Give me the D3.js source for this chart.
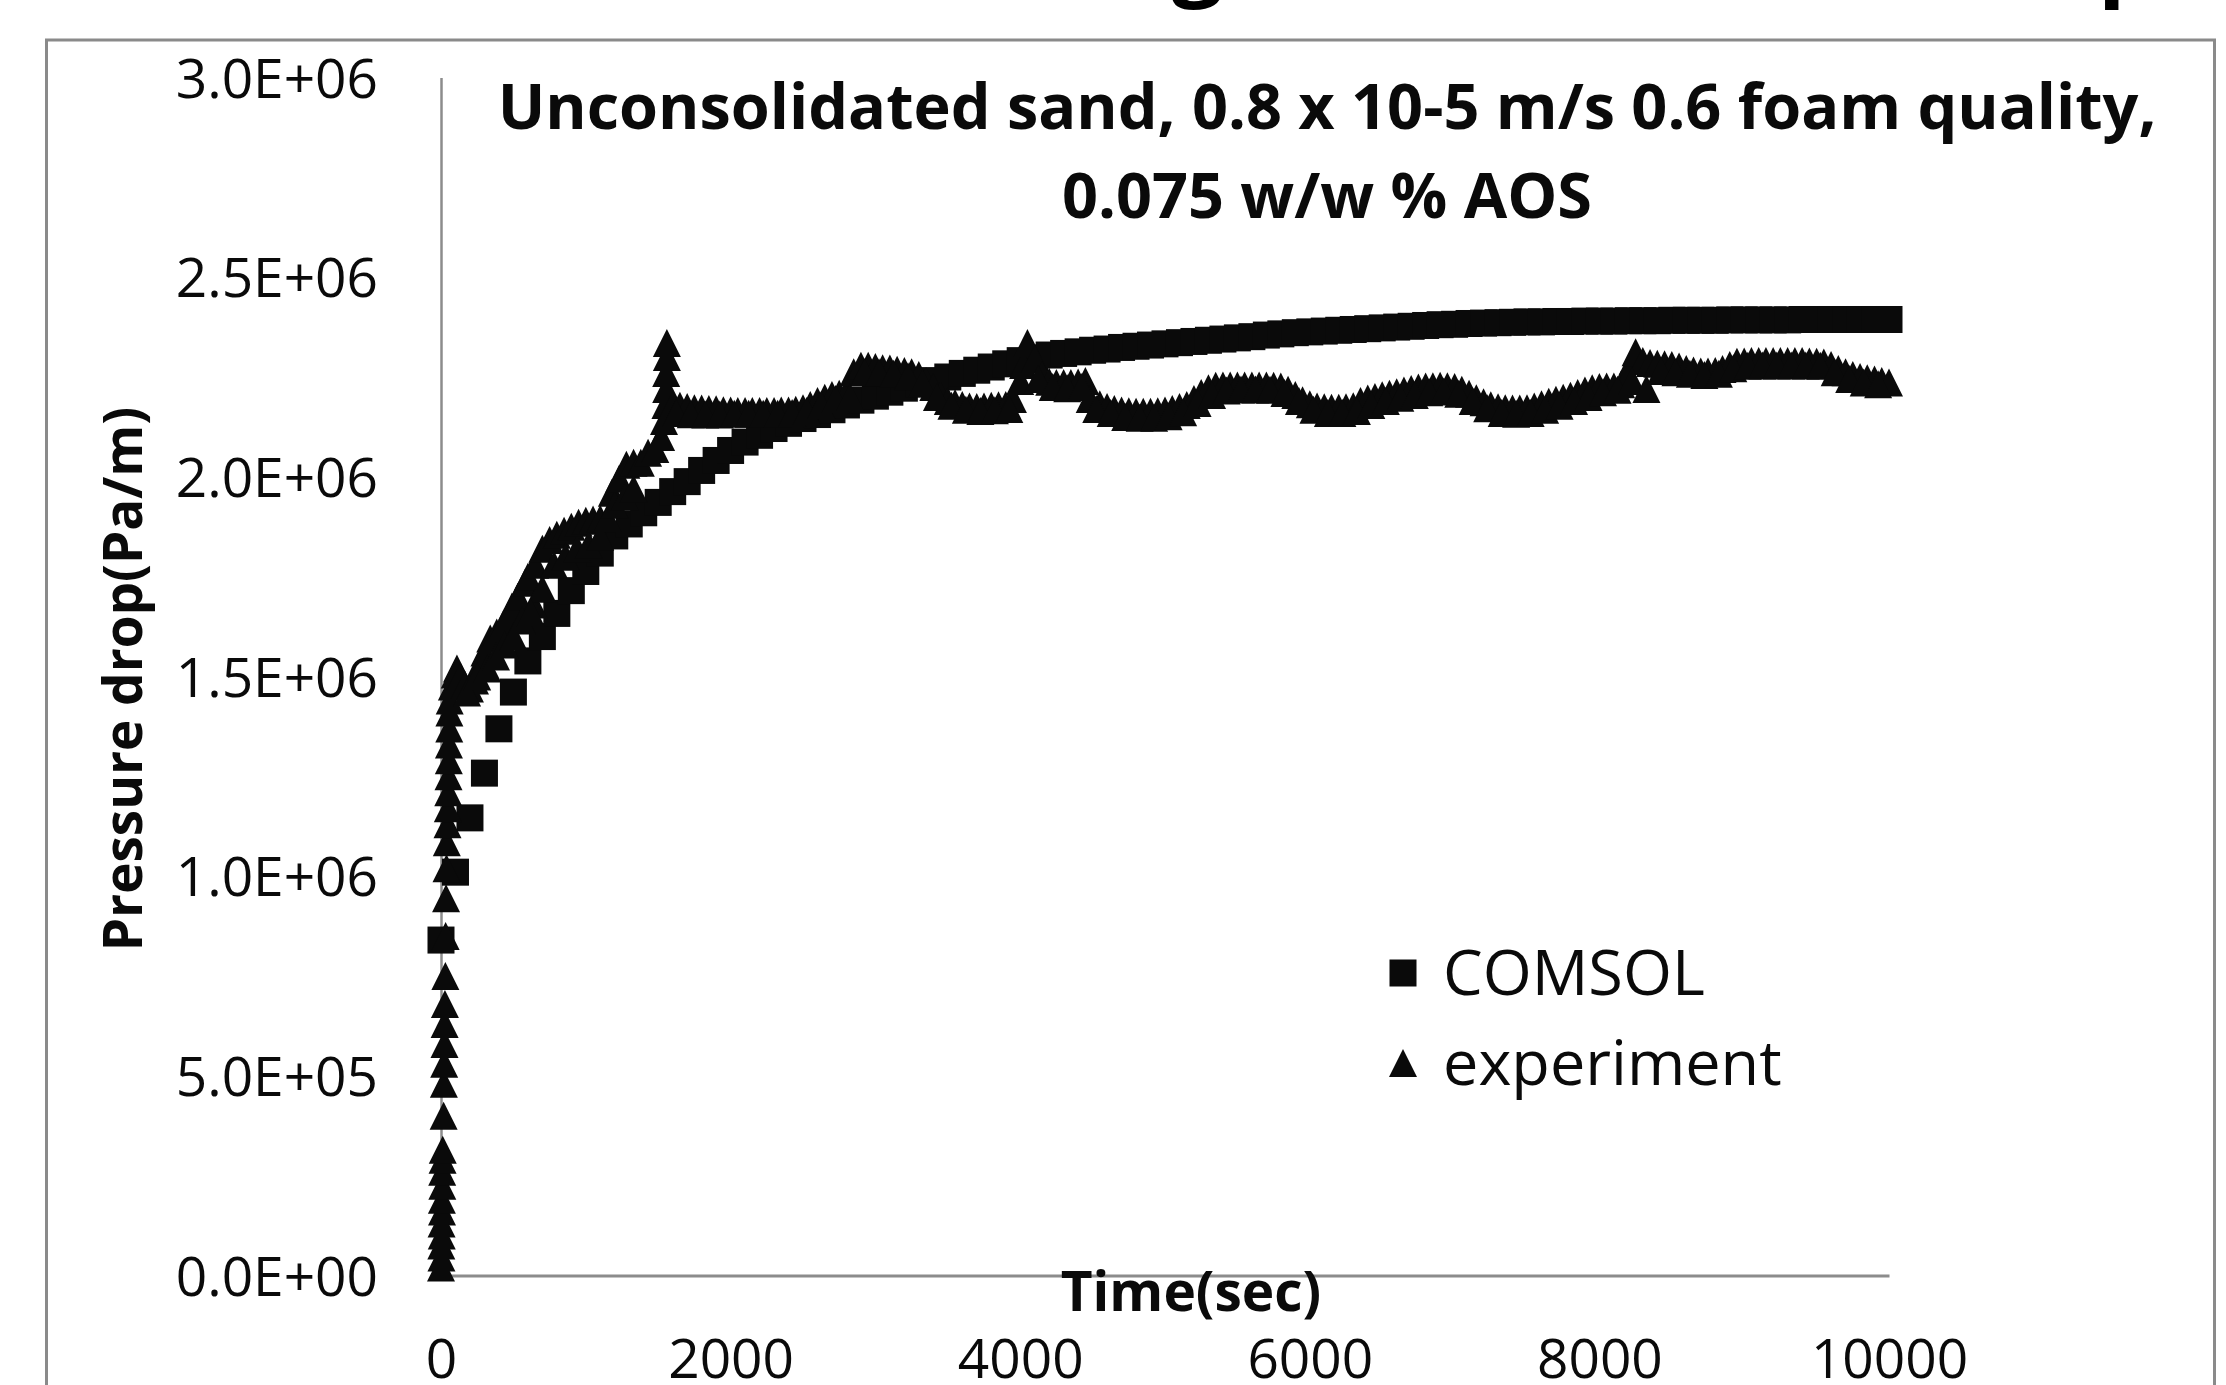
<!DOCTYPE html>
<html>
<head>
<meta charset="utf-8">
<script src="https://cdnjs.cloudflare.com/ajax/libs/d3/7.8.5/d3.min.js"></script>
<style>
  body { margin: 0; background: #fff; }
  svg { display: block; font-family: "Open Sans", sans-serif; }
  .axis path { stroke: #8c8c8c; }
  .axis text { fill: #0a0a0a; font-size: 55px; font-family: "Open Sans", sans-serif; }
</style>
</head>
<body>
<div id="chart"></div>
<script>
// COMSOL simulation, one marker every 100 s
var comsolTime = [
  0, 100, 200, 300, 400, 500, 600, 700, 800, 900,
  1000, 1100, 1200, 1300, 1400, 1500, 1600, 1700, 1800, 1900,
  2000, 2100, 2200, 2300, 2400, 2500, 2600, 2700, 2800, 2900,
  3000, 3100, 3200, 3300, 3400, 3500, 3600, 3700, 3800, 3900,
  4000, 4100, 4200, 4300, 4400, 4500, 4600, 4700, 4800, 4900,
  5000, 5100, 5200, 5300, 5400, 5500, 5600, 5700, 5800, 5900,
  6000, 6100, 6200, 6300, 6400, 6500, 6600, 6700, 6800, 6900,
  7000, 7100, 7200, 7300, 7400, 7500, 7600, 7700, 7800, 7900,
  8000, 8100, 8200, 8300, 8400, 8500, 8600, 8700, 8800, 8900,
  9000, 9100, 9200, 9300, 9400, 9500, 9600, 9700, 9800, 9900,
  10000
];
var comsolPressure = [
  0.840e6, 1.010e6, 1.146e6, 1.258e6, 1.369e6, 1.461e6, 1.539e6, 1.600e6, 1.658e6, 1.715e6,
  1.763e6, 1.809e6, 1.852e6, 1.882e6, 1.910e6, 1.936e6, 1.963e6, 1.988e6, 2.016e6, 2.041e6,
  2.066e6, 2.087e6, 2.104e6, 2.121e6, 2.134e6, 2.146e6, 2.156e6, 2.168e6, 2.180e6, 2.192e6,
  2.202e6, 2.212e6, 2.222e6, 2.232e6, 2.241e6, 2.250e6, 2.259e6, 2.267e6, 2.275e6, 2.283e6,
  2.291e6, 2.298e6, 2.305e6, 2.309e6, 2.313e6, 2.317e6, 2.320e6, 2.324e6, 2.327e6, 2.330e6,
  2.333e6, 2.336e6, 2.339e6, 2.342e6, 2.345e6, 2.348e6, 2.351e6, 2.355e6, 2.358e6, 2.361e6,
  2.363e6, 2.365e6, 2.367e6, 2.369e6, 2.371e6, 2.373e6, 2.375e6, 2.377e6, 2.379e6, 2.381e6,
  2.382e6, 2.384e6, 2.385e6, 2.386e6, 2.387e6, 2.388e6, 2.388e6, 2.389e6, 2.389e6, 2.390e6,
  2.390e6, 2.390e6, 2.391e6, 2.391e6, 2.391e6, 2.392e6, 2.392e6, 2.392e6, 2.392e6, 2.393e6,
  2.393e6, 2.393e6, 2.393e6, 2.393e6, 2.394e6, 2.394e6, 2.394e6, 2.394e6, 2.394e6, 2.394e6,
  2.394e6
];

// experiment (upper run of readings, then the lower ones)
var expTime = [
  0, 3, 2, 5, 4, 7, 6, 9, 8, 11,
  12, 18, 20, 22, 24, 25, 27, 30, 32, 35,
  38, 40, 45, 47, 50, 52, 54, 55, 57, 58,
  60, 75, 95, 110, 135, 165, 200, 235, 270, 300,
  340, 385, 430, 460, 490, 530, 580, 600, 640, 650,
  700, 700, 750, 780, 800, 850, 860, 900, 940, 950,
  1000, 1020, 1050, 1100, 1100, 1150, 1180, 1200, 1230, 1270,
  1280, 1330, 1330, 1380, 1430, 1480, 1520, 1540, 1550, 1555,
  1555, 1560, 1560, 1600, 1650, 1700, 1750, 1800, 1850, 1900,
  1950, 2000, 2050, 2100, 2150, 2200, 2250, 2300, 2350, 2400,
  2450, 2500, 2550, 2600, 2650, 2700, 2750, 2800, 2850, 2900,
  2950, 3000, 3050, 3100, 3150, 3200, 3250, 3300, 3350, 3400,
  3450, 3500, 3550, 3600, 3650, 3700, 3750, 3800, 3850, 3900,
  3950, 4000, 4020, 4050, 4100, 4150, 4200, 4250, 4300, 4350,
  4400, 4450, 4480, 4550, 4600, 4650, 4700, 4750, 4800, 4850,
  4900, 4950, 5000, 5050, 5100, 5150, 5200, 5250, 5300, 5350,
  5400, 5450, 5500, 5550, 5600, 5650, 5700, 5750, 5800, 5850,
  5900, 5950, 6000, 6050, 6100, 6150, 6200, 6250, 6300, 6350,
  6400, 6450, 6500, 6550, 6600, 6650, 6700, 6750, 6800, 6850,
  6900, 6950, 7000, 7050, 7100, 7150, 7200, 7250, 7300, 7350,
  7400, 7450, 7500, 7550, 7600, 7650, 7700, 7750, 7800, 7850,
  7900, 7950, 8000, 8050, 8100, 8150, 8200, 8230, 8250, 8300,
  8350, 8400, 8450, 8500, 8550, 8600, 8650, 8700, 8750, 8800,
  8850, 8900, 8950, 9000, 9050, 9100, 9150, 9200, 9250, 9300,
  9350, 9400, 9450, 9500, 9550, 9600, 9650, 9700, 9750, 9800,
  9850, 9900, 9950, 10000,
  180, 250, 320, 380, 440, 500, 560, 620,
  1625, 1725, 1825, 1925, 2025, 2125, 2225, 2325, 2425, 2525,
  2625, 2725, 2825, 2925, 3025, 3125, 3225, 3325, 3425, 3525,
  3625, 3725, 3825, 3925, 4125, 4225, 4325, 4425, 4525, 4625,
  4725, 4825, 4925, 5025, 5125, 5225, 5325, 5425, 5525, 5625,
  5725, 5825, 5925, 6025, 6125, 6225, 6325, 6425, 6525, 6625,
  6725, 6825, 6925, 7025, 7125, 7225, 7325, 7425, 7525, 7625,
  7725, 7825, 7925, 8025, 8125, 8225, 8325, 8425, 8525, 8625,
  8725, 8825, 8925, 9025, 9125, 9225, 9325, 9425, 9525, 9625,
  9725, 9825, 9925
];
var expPressure = [
  0.020e6, 0.045e6, 0.075e6, 0.100e6, 0.130e6, 0.160e6, 0.190e6, 0.225e6, 0.260e6, 0.290e6,
  0.315e6, 0.400e6, 0.480e6, 0.530e6, 0.580e6, 0.630e6, 0.680e6, 0.750e6, 0.850e6, 0.945e6,
  1.020e6, 1.085e6, 1.130e6, 1.170e6, 1.210e6, 1.250e6, 1.290e6, 1.330e6, 1.370e6, 1.410e6,
  1.440e6, 1.475e6, 1.505e6, 1.520e6, 1.500e6, 1.480e6, 1.470e6, 1.490e6, 1.530e6, 1.560e6,
  1.595e6, 1.610e6, 1.630e6, 1.650e6, 1.675e6, 1.700e6, 1.735e6, 1.750e6, 1.680e6, 1.780e6,
  1.820e6, 1.720e6, 1.842e6, 1.780e6, 1.855e6, 1.865e6, 1.800e6, 1.875e6, 1.820e6, 1.885e6,
  1.890e6, 1.830e6, 1.893e6, 1.895e6, 1.850e6, 1.897e6, 1.960e6, 1.930e6, 1.995e6, 1.950e6,
  2.030e6, 2.035e6, 1.970e6, 2.035e6, 2.060e6, 2.070e6, 2.100e6, 2.140e6, 2.180e6, 2.220e6,
  2.260e6, 2.300e6, 2.335e6, 2.180e6, 2.178e6, 2.175e6, 2.172e6, 2.171e6, 2.170e6, 2.169e6,
  2.167e6, 2.166e6, 2.165e6, 2.165e6, 2.165e6, 2.165e6, 2.165e6, 2.165e6, 2.166e6, 2.166e6,
  2.168e6, 2.172e6, 2.180e6, 2.190e6, 2.198e6, 2.205e6, 2.208e6, 2.210e6, 2.262e6, 2.278e6,
  2.278e6, 2.275e6, 2.272e6, 2.271e6, 2.268e6, 2.265e6, 2.262e6, 2.255e6, 2.240e6, 2.225e6,
  2.205e6, 2.190e6, 2.185e6, 2.180e6, 2.176e6, 2.175e6, 2.176e6, 2.178e6, 2.179e6, 2.180e6,
  2.195e6, 2.240e6, 2.280e6, 2.335e6, 2.295e6, 2.255e6, 2.238e6, 2.235e6, 2.235e6, 2.235e6,
  2.236e6, 2.240e6, 2.195e6, 2.182e6, 2.175e6, 2.170e6, 2.166e6, 2.164e6, 2.163e6, 2.163e6,
  2.163e6, 2.164e6, 2.166e6, 2.170e6, 2.175e6, 2.180e6, 2.195e6, 2.210e6, 2.222e6, 2.228e6,
  2.229e6, 2.229e6, 2.229e6, 2.229e6, 2.229e6, 2.229e6, 2.229e6, 2.228e6, 2.226e6, 2.218e6,
  2.205e6, 2.192e6, 2.182e6, 2.176e6, 2.174e6, 2.173e6, 2.173e6, 2.174e6, 2.177e6, 2.190e6,
  2.196e6, 2.200e6, 2.204e6, 2.208e6, 2.212e6, 2.216e6, 2.220e6, 2.224e6, 2.226e6, 2.227e6,
  2.228e6, 2.227e6, 2.225e6, 2.218e6, 2.208e6, 2.197e6, 2.187e6, 2.179e6, 2.174e6, 2.172e6,
  2.171e6, 2.171e6, 2.172e6, 2.176e6, 2.182e6, 2.188e6, 2.193e6, 2.198e6, 2.203e6, 2.210e6,
  2.216e6, 2.222e6, 2.225e6, 2.226e6, 2.226e6, 2.232e6, 2.255e6, 2.290e6, 2.312e6, 2.290e6,
  2.285e6, 2.283e6, 2.282e6, 2.280e6, 2.276e6, 2.270e6, 2.266e6, 2.264e6, 2.264e6, 2.265e6,
  2.270e6, 2.280e6, 2.288e6, 2.289e6, 2.290e6, 2.290e6, 2.290e6, 2.290e6, 2.290e6, 2.290e6,
  2.290e6, 2.290e6, 2.289e6, 2.288e6, 2.286e6, 2.280e6, 2.270e6, 2.262e6, 2.255e6, 2.250e6,
  2.247e6, 2.244e6, 2.240e6, 2.236e6,
  1.460e6, 1.500e6, 1.520e6, 1.550e6, 1.580e6, 1.600e6, 1.640e6, 1.660e6,
  2.160e6, 2.157e6, 2.156e6, 2.156e6, 2.158e6, 2.158e6, 2.158e6, 2.158e6, 2.160e6, 2.165e6,
  2.180e6, 2.195e6, 2.200e6, 2.262e6, 2.262e6, 2.258e6, 2.252e6, 2.235e6, 2.200e6, 2.178e6,
  2.168e6, 2.165e6, 2.167e6, 2.170e6, 2.245e6, 2.225e6, 2.222e6, 2.225e6, 2.170e6, 2.160e6,
  2.150e6, 2.148e6, 2.148e6, 2.152e6, 2.162e6, 2.185e6, 2.205e6, 2.216e6, 2.219e6, 2.219e6,
  2.218e6, 2.210e6, 2.190e6, 2.168e6, 2.160e6, 2.160e6, 2.165e6, 2.180e6, 2.190e6, 2.198e6,
  2.205e6, 2.212e6, 2.214e6, 2.208e6, 2.190e6, 2.172e6, 2.160e6, 2.158e6, 2.160e6, 2.168e6,
  2.178e6, 2.190e6, 2.200e6, 2.212e6, 2.218e6, 2.240e6, 2.220e6, 2.265e6, 2.262e6, 2.258e6,
  2.255e6, 2.258e6, 2.272e6, 2.278e6, 2.279e6, 2.279e6, 2.279e6, 2.279e6, 2.278e6, 2.262e6,
  2.245e6, 2.236e6, 2.232e6
];

var xTicks = [0, 2000, 4000, 6000, 8000, 10000];
var yTicks = [0, 0.5e6, 1.0e6, 1.5e6, 2.0e6, 2.5e6, 3.0e6];
var yTickLabels = ["0.0E+00", "5.0E+05", "1.0E+06", "1.5E+06", "2.0E+06", "2.5E+06", "3.0E+06"];
var titleLines = ["Unconsolidated sand, 0.8 x 10-5 m/s 0.6 foam quality,", "0.075 w/w % AOS"];
var legendLabels = ["COMSOL", "experiment"];
var xTitle = "Time(sec)";
var yTitle = "Pressure drop(Pa/m)";

var W = 2226, H = 1385;

var svg = d3.select("#chart")
    .append("svg")
    .attr("width", W)
    .attr("height", H);

svg.append("rect")
    .attr("width", W)
    .attr("height", H)
    .attr("fill", "#fff");

// bits of the caption line above, cut by the page edge
svg.append("text")
    .attr("y", -12)
    .attr("font-size", 90)
    .attr("font-weight", 700)
    .attr("fill", "#000")
    .selectAll("tspan")
    .data([[928, ","], [1172, "g"], [2098, "p"]])
    .enter().append("tspan")
    .attr("x", function (d) { return d[0]; })
    .text(function (d) { return d[1]; });

// chart frame
svg.append("rect")
    .attr("x", 46.5)
    .attr("y", 40)
    .attr("width", 2168)
    .attr("height", 1400)
    .attr("fill", "none")
    .attr("stroke", "#8a8a8a")
    .attr("stroke-width", 3);

var x = d3.scaleLinear().domain([0, 10000]).range([441, 1889]);
var y = d3.scaleLinear().domain([0, 3e6]).range([1275.5, 77.5]);

var yAxis = d3.axisLeft(y)
    .tickValues(yTicks)
    .tickSize(0)
    .tickPadding(63)
    .tickFormat(function (d, i) { return yTickLabels[i]; });

var xAxis = d3.axisBottom(x)
    .tickValues(xTicks)
    .tickSize(0)
    .tickPadding(63)
    .tickFormat(d3.format("d"));

var gy = svg.append("g")
    .attr("class", "axis")
    .attr("transform", "translate(441,0)")
    .call(yAxis);
gy.select(".domain").attr("stroke-width", 2.5);
gy.selectAll("text").attr("dy", "0.36em");

var gx = svg.append("g")
    .attr("class", "axis")
    .attr("transform", "translate(0,1275.5)")
    .call(xAxis);
gx.select(".domain").attr("stroke-width", 3);

// markers
var sq = 27, tri = 28;
function trianglePath(s) {
    var h = s / 2;
    return "M0," + (-h) + "L" + h + "," + h + "L" + (-h) + "," + h + "Z";
}

var comsolData = comsolTime.map(function (t, i) { return {t: t, p: comsolPressure[i]}; });
var expData = expTime.map(function (t, i) { return {t: t, p: expPressure[i]}; });

svg.append("g")
    .selectAll("rect")
    .data(comsolData)
    .enter().append("rect")
    .attr("x", function (d) { return x(d.t) - sq / 2; })
    .attr("y", function (d) { return y(d.p) - sq / 2; })
    .attr("width", sq)
    .attr("height", sq)
    .attr("fill", "#0a0a0a");

svg.append("g")
    .selectAll("path")
    .data(expData)
    .enter().append("path")
    .attr("transform", function (d) { return "translate(" + x(d.t) + "," + y(d.p) + ")"; })
    .attr("d", trianglePath(tri))
    .attr("fill", "#0a0a0a");

// titles
svg.append("text")
    .attr("text-anchor", "middle")
    .attr("font-size", 63)
    .attr("font-weight", 700)
    .attr("fill", "#0a0a0a")
    .selectAll("tspan")
    .data(titleLines)
    .enter().append("tspan")
    .attr("x", 1327)
    .attr("y", function (d, i) { return 129 + i * 89; })
    .text(function (d) { return d; });

svg.append("text")
    .attr("x", 1191)
    .attr("y", 1311)
    .attr("text-anchor", "middle")
    .attr("font-size", 55)
    .attr("font-weight", 700)
    .attr("fill", "#0a0a0a")
    .text(xTitle);

svg.append("text")
    .attr("transform", "translate(123,679) rotate(-90)")
    .attr("dy", "0.36em")
    .attr("text-anchor", "middle")
    .attr("font-size", 53)
    .attr("font-weight", 700)
    .attr("fill", "#0a0a0a")
    .text(yTitle);

// legend
var legend = svg.append("g")
    .selectAll("g")
    .data(legendLabels)
    .enter().append("g")
    .attr("transform", function (d, i) { return "translate(1403," + (973 + i * 90) + ")"; });

legend.filter(function (d, i) { return i === 0; })
    .append("rect")
    .attr("x", -sq / 2)
    .attr("y", -sq / 2)
    .attr("width", sq)
    .attr("height", sq)
    .attr("fill", "#0a0a0a");

legend.filter(function (d, i) { return i === 1; })
    .append("path")
    .attr("d", trianglePath(tri))
    .attr("fill", "#0a0a0a");

legend.append("text")
    .attr("x", 40)
    .attr("y", 22)
    .attr("font-size", 63)
    .attr("fill", "#0a0a0a")
    .text(function (d) { return d; });
</script>
</body>
</html>
